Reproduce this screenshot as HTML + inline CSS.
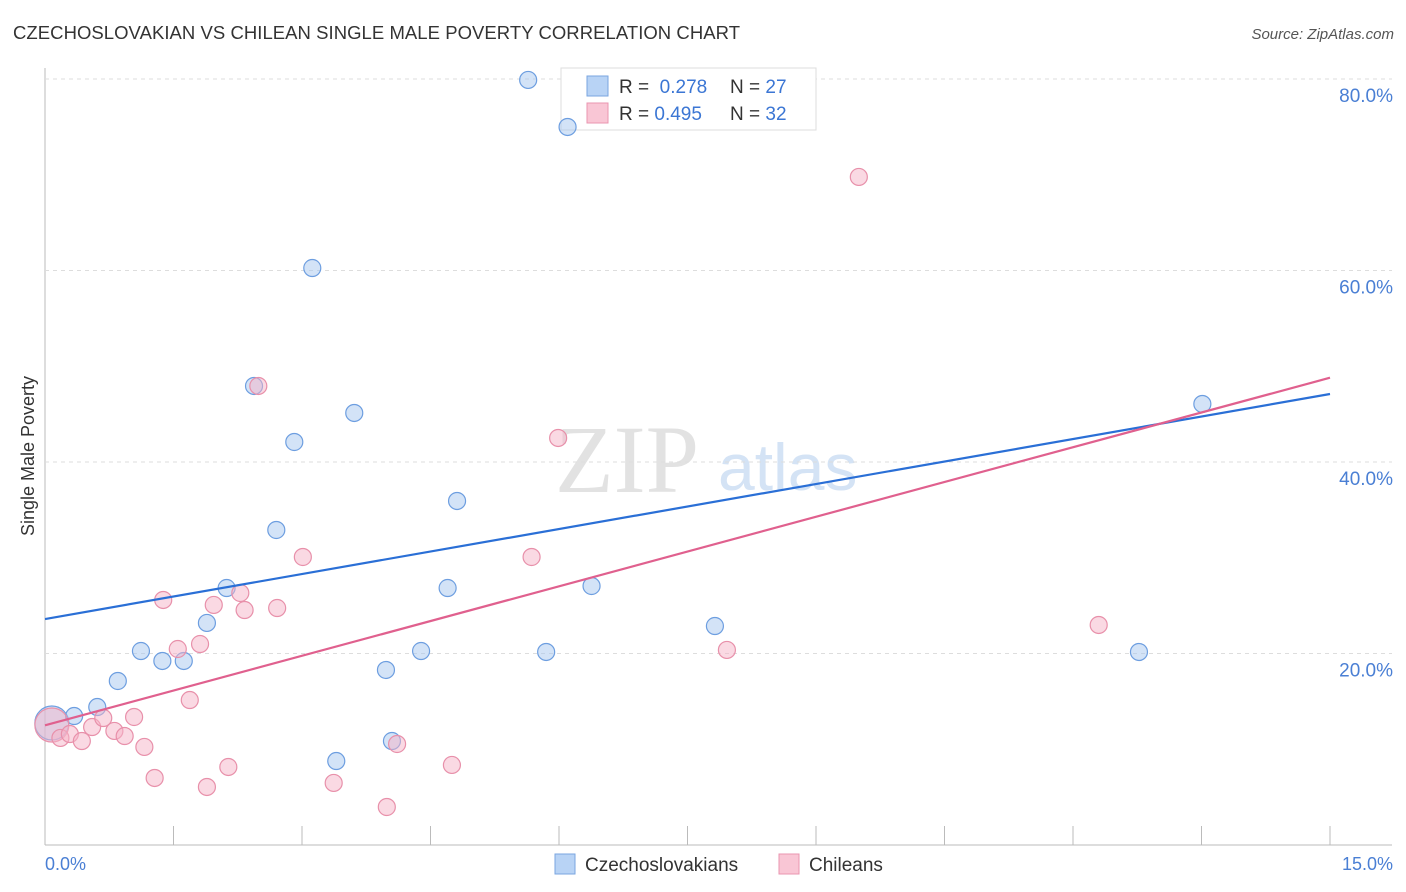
<!DOCTYPE html>
<html><head><meta charset="utf-8"><style>
body{margin:0;background:#fff;font-family:"Liberation Sans",sans-serif}
svg{display:block}
</style></head><body>
<svg id="c" width="1406" height="892" xmlns="http://www.w3.org/2000/svg">
<text x="13" y="39" font-size="18.5" fill="#333" textLength="727">CZECHOSLOVAKIAN VS CHILEAN SINGLE MALE POVERTY CORRELATION CHART</text>
<text x="1394" y="39" font-size="15" fill="#555" font-style="italic" text-anchor="end">Source: ZipAtlas.com</text>
<text x="0" y="0" transform="translate(34,456) rotate(-90)" font-size="18" fill="#333" text-anchor="middle">Single Male Poverty</text>
<g><text x="555" y="492" font-size="96" font-family="Liberation Serif,serif" fill="#e2e2e2">ZIP</text><text x="718" y="490" font-size="66" fill="#d4e3f5">atlas</text></g>
<g id="grid"></g>
<g>
<rect x="561" y="68" width="255" height="62" fill="#fff" stroke="#ddd"/>
<rect x="587" y="76" width="21" height="20" fill="#b8d3f5" stroke="#7aa6e0"/>
<rect x="587" y="103" width="21" height="20" fill="#f9c6d5" stroke="#ea95b0"/>
<text x="619" y="93" font-size="19" fill="#333">R = <tspan fill="#3b76d4">&#160;0.278</tspan></text>
<text x="730" y="93" font-size="19" fill="#333">N = <tspan fill="#3b76d4">27</tspan></text>
<text x="619" y="120" font-size="19" fill="#333">R = <tspan fill="#3b76d4">0.495</tspan></text>
<text x="730" y="120" font-size="19" fill="#333">N = <tspan fill="#3b76d4">32</tspan></text>
</g>
<g id="marks"></g>
<g>
<rect x="555" y="854" width="20" height="20" fill="#b8d3f5" stroke="#7aa6e0"/>
<text x="585" y="871" font-size="19" fill="#333">Czechoslovakians</text>
<rect x="779" y="854" width="20" height="20" fill="#f9c6d5" stroke="#ea95b0"/>
<text x="809" y="871" font-size="19" fill="#333">Chileans</text>
</g>
</svg>
<script>
const blueX=[0.08,0.34,0.61,0.85,1.12,1.37,1.62,1.89,2.12,2.44,2.70,2.91,3.12,3.61,3.98,4.05,3.40,4.39,4.70,4.81,5.64,5.85,6.10,6.38,7.82,12.77,13.51];
const blueY=[12.74,13.47,14.41,17.13,20.26,19.22,19.22,23.19,26.84,47.94,32.90,42.09,60.26,45.12,18.28,10.86,8.77,20.26,26.84,35.93,79.90,20.16,74.99,27.05,22.87,20.16,46.06];
const pinkX=[0.08,0.18,0.29,0.43,0.55,0.68,0.81,0.93,1.04,1.16,1.28,1.38,1.55,1.69,1.81,1.89,1.97,2.14,2.28,2.33,2.49,2.71,3.01,3.37,3.99,4.11,4.75,5.68,5.99,7.96,9.50,12.30];
const pinkY=[12.53,11.18,11.59,10.86,12.32,13.26,11.91,11.38,13.37,10.24,7.00,25.59,20.47,15.14,20.99,6.06,25.07,8.15,26.32,24.54,47.94,24.75,30.08,6.48,3.97,10.55,8.36,30.08,42.51,20.37,69.77,22.98];
const blueTrend=[23.6,47.1];
const pinkTrend=[12.5,48.8];
const yTicks=[20,40,60,80];
const yTickLabels=["20.0%","40.0%","60.0%","80.0%"];
const NS='http://www.w3.org/2000/svg';
const X=v=>45+v/15*1285, Y=v=>845-v/20*191.5;
const grid=document.getElementById('grid'), marks=document.getElementById('marks');
function mk(p,tag,a){const e=document.createElementNS(NS,tag);for(const k in a)e.setAttribute(k,a[k]);p.appendChild(e);return e;}
let e=mk(grid,'line',{x1:45,y1:68,x2:45,y2:845,stroke:'#bbb'});


e=mk(grid,'line',{x1:45,y1:845,x2:1392,y2:845,stroke:'#bbb'});


for(let i=1;i<=10;i++){e=mk(grid,'line',{x1:X(i*1.5),y1:826,x2:X(i*1.5),y2:845,stroke:'#bbb'});

}
yTicks.forEach((t,i)=>{e=mk(grid,'line',{x1:45,y1:Y(t),x2:1392,y2:Y(t),stroke:'#ddd','stroke-dasharray':'4,4'});


e=mk(grid,'text',{x:1393,y:Y(t)+23,'font-size':19,fill:'#4a7fd4','text-anchor':'end'});e.textContent=yTickLabels[i];

});
e=mk(grid,'text',{x:45,y:870,'font-size':18,fill:'#4a7fd4'});e.textContent='0.0%';


e=mk(grid,'text',{x:1393,y:870,'font-size':18,fill:'#4a7fd4','text-anchor':'end'});e.textContent='15.0%';


function pts(xs,ys,fill,stroke,name){xs.forEach((x,i)=>{const r=i===0?17:8.5;e=mk(marks,'circle',{cx:X(x),cy:Y(ys[i]),r:r,fill:fill,stroke:stroke,'stroke-width':1.2});

});}
pts(blueX,blueY,'rgba(168,200,240,0.5)','#6d9ee0','czech-point');
pts(pinkX,pinkY,'rgba(246,180,200,0.5)','#e890aa','chilean-point');
e=mk(marks,'line',{x1:X(0),y1:Y(blueTrend[0]),x2:X(15),y2:Y(blueTrend[1]),stroke:'#2a6fd6','stroke-width':2.2});


e=mk(marks,'line',{x1:X(0),y1:Y(pinkTrend[0]),x2:X(15),y2:Y(pinkTrend[1]),stroke:'#e0608e','stroke-width':2.2});


</script>
</body></html>
